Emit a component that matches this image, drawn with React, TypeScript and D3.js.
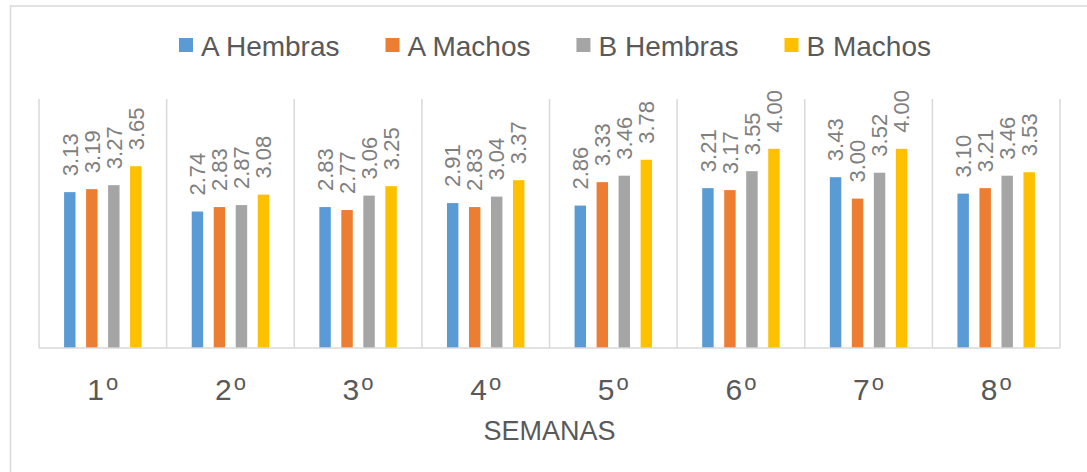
import React, { useRef, useEffect } from 'react'
import * as d3 from 'd3'

// data
const semanas = ['1', '2', '3', '4', '5', '6', '7', '8']
const series = ['A Hembras', 'A Machos', 'B Hembras', 'B Machos']
const aHembras = [3.13, 2.74, 2.83, 2.91, 2.86, 3.21, 3.43, 3.10]
const aMachos = [3.19, 2.83, 2.77, 2.83, 3.33, 3.17, 3.00, 3.21]
const bHembras = [3.27, 2.87, 3.06, 3.04, 3.46, 3.55, 3.52, 3.46]
const bMachos = [3.65, 3.08, 3.25, 3.37, 3.78, 4.00, 4.00, 3.53]
const colors = ['#5b9bd5', '#ed7d31', '#a5a5a5', '#ffc000']
const xTitle = 'SEMANAS'

const App = () => {
  const svgRef = useRef<SVGSVGElement>(null)

  useEffect(() => {
    document.body.style.margin = '0'
    document.body.style.overflow = 'hidden'

    const svg = d3.select(svgRef.current)
    svg.selectAll('*').remove()

    const width = 1087, height = 472
    const margin = { top: 99, right: 27, bottom: 124, left: 39 }
    const font = '"Liberation Sans", Arial, sans-serif'
    const grid = '#d9d9d9'

    const values = [aHembras, aMachos, bHembras, bMachos]
    const rows = semanas.map((s, i) => ({ semana: s, vals: values.map(v => v[i]) }))

    // outer chart frame (runs off the page to the right and bottom)
    svg.append('rect')
      .attr('x', 10.5).attr('y', 6)
      .attr('width', 1200).attr('height', 600)
      .attr('fill', 'none').attr('stroke', grid).attr('stroke-width', 1.5)

    const x0 = d3.scaleBand()
      .domain(semanas)
      .range([margin.left, width - margin.right])
    const x1 = d3.scaleBand()
      .domain(series)
      .range([0, x0.bandwidth()])
      .paddingInner(0.48)
      .paddingOuter(1.14)
    const y = d3.scaleLinear()
      .domain([0, 5])
      .range([height - margin.bottom, margin.top])

    // category separators
    const edges = semanas.map(s => x0(s) as number).concat([width - margin.right])
    svg.append('g').selectAll('line')
      .data(edges)
      .join('line')
      .attr('x1', d => d).attr('x2', d => d)
      .attr('y1', y(5)).attr('y2', y(0))
      .attr('stroke', grid).attr('stroke-width', 1.5)

    // bars
    const groups = svg.append('g').selectAll('g')
      .data(rows)
      .join('g')
      .attr('transform', d => `translate(${x0(d.semana)},0)`)

    groups.selectAll('rect')
      .data(d => d.vals.map((v, j) => ({ key: series[j], v, j })))
      .join('rect')
      .attr('x', d => x1(d.key) as number)
      .attr('width', x1.bandwidth())
      .attr('y', d => y(d.v))
      .attr('height', d => y(0) - y(d.v))
      .attr('fill', d => colors[d.j])

    // value labels, rotated
    groups.selectAll('text')
      .data(d => d.vals.map((v, j) => ({ key: series[j], v, j })))
      .join('text')
      .attr('transform', d => `translate(${(x1(d.key) as number) + x1.bandwidth() / 2},${y(d.v) - 16}) rotate(-90)`)
      .attr('dy', '0.35em')
      .attr('font-family', font)
      .attr('font-size', 22)
      .attr('fill', '#7f7f7f')
      .text(d => d.v.toFixed(2))

    // x axis line
    svg.append('line')
      .attr('x1', margin.left).attr('x2', width - margin.right)
      .attr('y1', y(0)).attr('y2', y(0))
      .attr('stroke', grid).attr('stroke-width', 1.5)

    // tick labels
    const ticks = svg.append('g').selectAll('text')
      .data(semanas)
      .join('text')
      .attr('x', d => (x0(d) as number) + x0.bandwidth() / 2)
      .attr('y', 399.5)
      .attr('text-anchor', 'middle')
      .attr('font-family', font)
      .attr('font-size', 30)
      .attr('fill', '#595959')
    ticks.append('tspan').text(d => d)
    ticks.append('tspan')
      .attr('font-size', 22)
      .attr('dy', -10)
      .attr('dx', 2)
      .text('o')

    svg.append('text')
      .attr('x', (margin.left + width - margin.right) / 2)
      .attr('y', 440)
      .attr('text-anchor', 'middle')
      .attr('font-family', font)
      .attr('font-size', 27)
      .attr('fill', '#595959')
      .text(xTitle)

    // legend
    const legend = svg.append('g')
    const sq = 14, gapText = 8, gapItem = 46
    let cx = 0
    series.forEach((s, i) => {
      const item = legend.append('g').attr('transform', `translate(${cx},0)`)
      item.append('rect')
        .attr('x', 0).attr('y', 38)
        .attr('width', sq).attr('height', sq)
        .attr('fill', colors[i])
      const t = item.append('text')
        .attr('x', sq + gapText)
        .attr('y', 55.5)
        .attr('font-family', font)
        .attr('font-size', 28)
        .attr('fill', '#595959')
        .text(s)
      const w = (t.node() as SVGTextElement).getComputedTextLength()
      cx += sq + gapText + w + gapItem
    })
    const total = cx - gapItem
    legend.attr('transform', `translate(${555 - total / 2},0)`)
  }, [])

  return (
    <div>
      <svg ref={svgRef} width={1087} height={472} style={{ display: 'block', background: '#fff' }}></svg>
    </div>
  )
}

export default App
